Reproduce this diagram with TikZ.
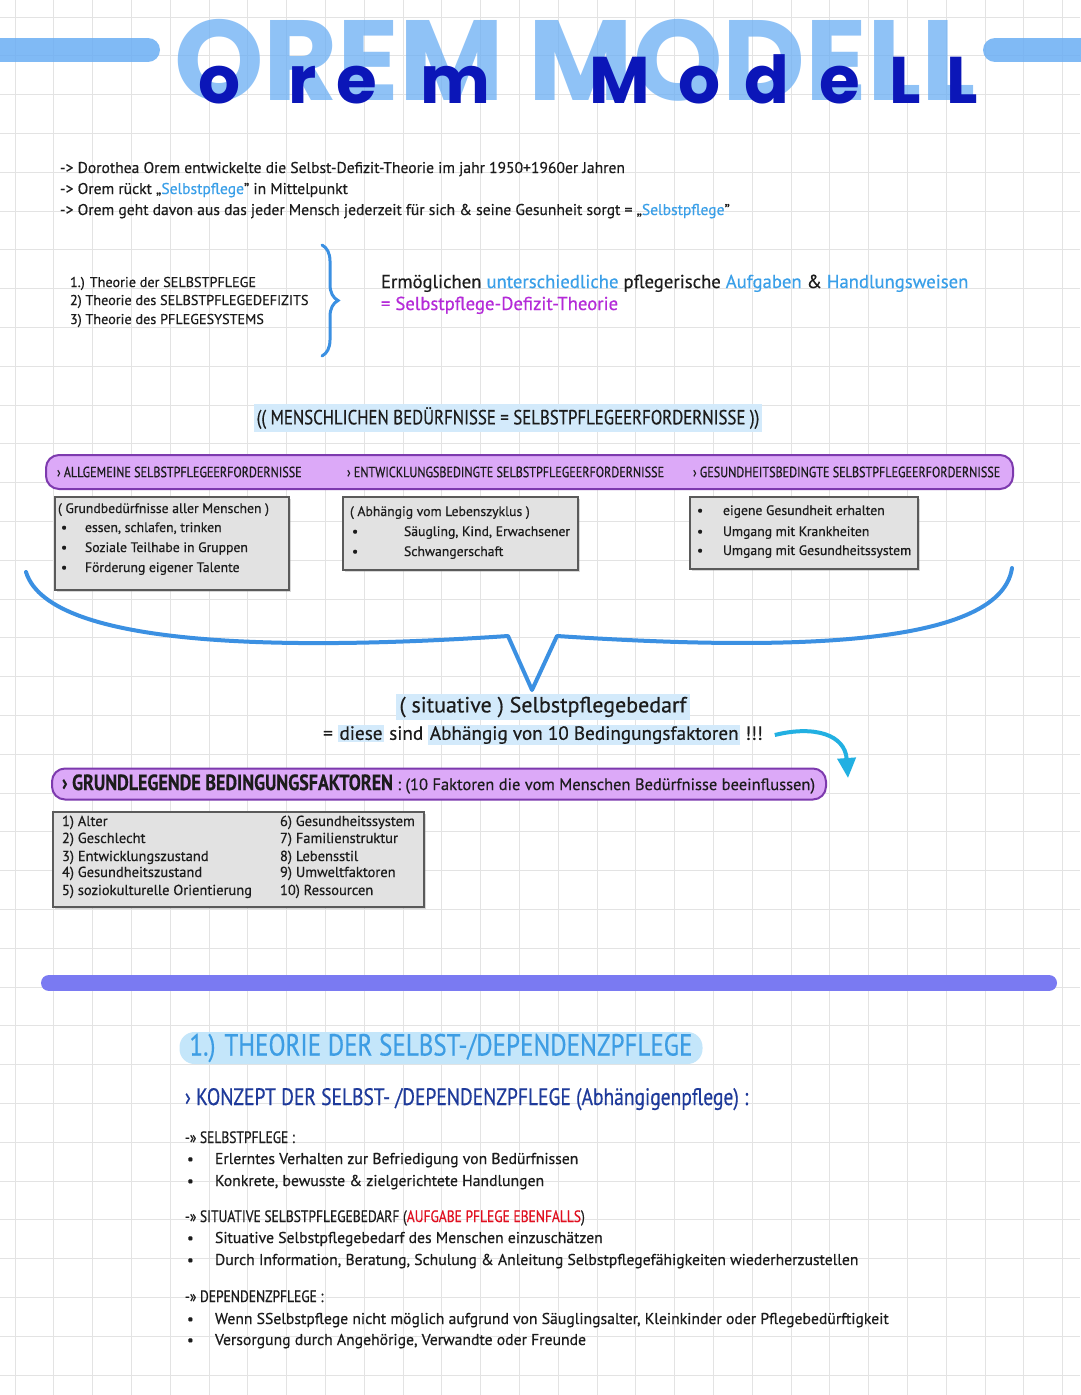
\documentclass[tikz,border=0pt]{standalone}
\usepackage{fontspec}
\setmainfont{PT Sans}[FakeBold=0.5]
\newfontfamily\capsfont[FakeStretch=0.82,FakeBold=0.5]{PT Sans}
\newfontfamily\titlefont{Poppins}
\usetikzlibrary{arrows.meta,positioning,calc,decorations.pathreplacing,shadows}

\definecolor{gridgray}{HTML}{E3E3E3}
\definecolor{titlelight}{HTML}{6AAEF4}
\definecolor{handblue}{HTML}{0B16B8}
\definecolor{ink}{HTML}{1C1C1C}
\definecolor{skyblue}{HTML}{3A9FE8}
\definecolor{violettext}{HTML}{B42AD8}
\definecolor{hlblue}{HTML}{D3EAFB}
\definecolor{barfill}{HTML}{DCA9F8}
\definecolor{barline}{HTML}{7D3AAE}
\definecolor{boxfill}{HTML}{E2E2E2}
\definecolor{boxedge}{HTML}{5A5A5A}
\definecolor{braceblue}{HTML}{3B90E2}
\definecolor{arrowcyan}{HTML}{22B0E2}
\definecolor{dividerblue}{HTML}{7A7AF2}
\definecolor{headblue}{HTML}{3D9DE4}
\definecolor{headhl}{HTML}{C4E6FA}
\definecolor{navy}{HTML}{1E3A9A}
\definecolor{alertred}{HTML}{E01020}

\newcommand\fsz[1]{\fontsize{#1}{#1}\selectfont}
\newcommand\markhl[1]{{\setlength{\fboxsep}{1.5pt}\colorbox{hlblue}{#1}}}

\begin{document}
\begin{tikzpicture}[
  x=1pt, y=-1pt, >=Stealth,
  every node/.style={inner sep=0pt, outer sep=0pt, text=ink},
  gridline/.style={draw=gridgray, line width=0.9pt},
  titlebig/.style={font=\titlefont\bfseries\fsz{114}, text=titlelight, text opacity=.75, anchor=base},
  handletter/.style={font=\titlefont\bfseries\fsz{66}, text=handblue, anchor=base},
  titlebar/.style={draw=titlelight, draw opacity=.85, line width=24pt, line cap=round},
  body/.style={font=\fsz{15.6}, anchor=base west},
  listtext/.style={font=\fsz{14.2}, anchor=base west},
  bigline/.style={font=\fsz{18.7}, anchor=base west},
  capsline/.style={font=\capsfont\fsz{20.5}, anchor=center},
  barlabel/.style={font=\capsfont\fsz{14.8}, anchor=west},
  bar/.style={draw=barline, line width=2pt, fill=barfill, rounded corners=13pt},
  greybox/.style={draw=boxedge, line width=1.2pt, fill=boxfill, anchor=north west,
                  drop shadow={shadow xshift=1.5pt, shadow yshift=-1.5pt, opacity=.3}},
  boxitem/.style={font=\fsz{13.7}, anchor=base west},
  bulletdot/.style={font=\fsz{13.7}, anchor=base west},
  bigbrace/.style={draw=braceblue, line width=4pt, line cap=round, line join=round},
  smallbrace/.style={draw=braceblue, line width=3pt, line cap=round, decorate,
                     decoration={brace, amplitude=16pt}},
  curvarrow/.style={draw=arrowcyan, line width=4pt, -{Triangle[length=20pt,width=18pt]}},
  subhead/.style={font=\capsfont\fsz{16.5}, anchor=base west},
  lowitem/.style={font=\fsz{15.7}, anchor=base west},
]
\useasboundingbox (0,0) rectangle (1080,1395);
\fill[white] (0,0) rectangle (1080,1395);
% grid paper
\foreach \gx in {15,53.8,...,1080} \draw[gridline] (\gx,0) -- (\gx,1395);
\foreach \gy in {17,55.8,...,1395} \draw[gridline] (0,\gy) -- (1080,\gy);

% title
\draw[titlebar] (-20,50) -- (148,50);
\draw[titlebar] (995,50) -- (1100,50);
\node[titlebig] (caps) at (575,100) {OREM MODELL};
\foreach \ch/\cx [count=\ci] in {o/220,r/303,e/357,m/455,M/620,o/700,d/767,e/840,L/905,L/962}
  \node[handletter] (hand\ci) at (\cx,103) {\ch};

% intro
\node[body] (intro1) at (60,173) {-> Dorothea Orem entwickelte die Selbst-Defizit-Theorie im jahr 1950+1960er Jahren};
\node[body] (intro2) at (60,194) {-> Orem rückt „\textcolor{skyblue}{Selbstpflege}" in Mittelpunkt};
\node[body] (intro3) at (60,215) {-> Orem geht davon aus das jeder Mensch jederzeit für sich \& seine Gesunheit sorgt = „\textcolor{skyblue}{Selbstpflege}"};

% three theories
\foreach \txt/\ty [count=\ti] in {{1.) Theorie der SELBSTPFLEGE}/287, {2) Theorie des SELBSTPFLEGEDEFIZITS}/305, {3) Theorie des PFLEGESYSTEMS}/324}
  \node[listtext] (theo\ti) at (70,\ty) {\txt};
\coordinate (bracetop) at (322,245);
\coordinate (bracebot) at (322,356);
\draw[smallbrace] (bracetop) -- (bracebot);
\node[bigline] (enable) at (381,288) {Ermöglichen \textcolor{skyblue}{unterschiedliche} pflegerische \textcolor{skyblue}{Aufgaben} \& \textcolor{skyblue}{Handlungsweisen}};
\node[bigline, text=violettext] (sdt) at (381,310) {= Selbstpflege-Defizit-Theorie};

% needs
\node[capsline, fill=hlblue, inner xsep=3pt, inner ysep=3pt] (needs) at (508,418) {(( MENSCHLICHEN BEDÜRFNISSE = SELBSTPFLEGEERFORDERNISSE ))};
\node[bar, minimum width=967, minimum height=34] (barA) at (529.5,472) {};
\node[barlabel] (allg) at (57,472) {› ALLGEMEINE SELBSTPFLEGEERFORDERNISSE};
\node[barlabel] (entw) at (347,472) {› ENTWICKLUNGSBEDINGTE SELBSTPFLEGEERFORDERNISSE};
\node[barlabel] (gesu) at (693,472) {› GESUNDHEITSBEDINGTE SELBSTPFLEGEERFORDERNISSE};

\node[greybox, minimum width=234, minimum height=93] (boxA) at (55,497) {};
\node[boxitem] (headA) at (58,513) {( Grundbedürfnisse aller Menschen )};
\foreach \txt/\ty [count=\ai] in {{essen, schlafen, trinken}/532, {Soziale Teilhabe in Gruppen}/552, {Förderung eigener Talente}/572} {
  \node[bulletdot] (dotA\ai) at (61,\ty) {•};
  \node[boxitem] (itemA\ai) at (85,\ty) {\txt};
}
\node[greybox, minimum width=235, minimum height=73] (boxB) at (343,497) {};
\node[boxitem] (headB) at (350,516) {( Abhängig vom Lebenszyklus )};
\foreach \txt/\ty [count=\bi] in {{Säugling, Kind, Erwachsener}/536, {Schwangerschaft}/556} {
  \node[bulletdot] (dotB\bi) at (352,\ty) {•};
  \node[boxitem] (itemB\bi) at (404,\ty) {\txt};
}
\node[greybox, minimum width=228, minimum height=72] (boxC) at (690,497) {};
\foreach \txt/\ty [count=\cj] in {{eigene Gesundheit erhalten}/515, {Umgang mit Krankheiten}/536, {Umgang mit Gesundheitssystem}/555} {
  \node[bulletdot] (dotC\cj) at (697,\ty) {•};
  \node[boxitem] (itemC\cj) at (723,\ty) {\txt};
}

% big brace
\draw[bigbrace] (26,572) .. controls (50,650) and (300,650) .. (508,636)
  -- (532,690) -- (557,636) .. controls (770,650) and (1000,650) .. (1012,568);

\node[font=\fsz{22}, fill=hlblue, inner xsep=3pt, inner ysep=3pt] (bedarf) at (543,707) {( situative ) Selbstpflegebedarf};
\node[font=\fsz{19.2}] (dies) at (543,735) {= \markhl{diese} sind \markhl{Abhängig von 10 Bedingungsfaktoren} !!!};
\coordinate (arrowtip) at (848,778);
\draw[curvarrow] ([xshift=12pt]dies.east) .. controls (815,725) and (845,735) .. (arrowtip);

% factors
\node[bar, minimum width=774, minimum height=31] (barB) at (439,784) {};
\node[anchor=west] (grund) at (62,784) {\capsfont\bfseries\fsz{22}› GRUNDLEGENDE BEDINGUNGSFAKTOREN\normalfont\fsz{16.5}{} : (10 Faktoren die vom Menschen Bedürfnisse beeinflussen)};
\node[greybox, minimum width=371, minimum height=95] (boxF) at (53,812) {};
\foreach \la/\lb/\ty [count=\fk] in {{1) Alter}/{6) Gesundheitssystem}/826, {2) Geschlecht}/{7) Familienstruktur}/843,
    {3) Entwicklungszustand}/{8) Lebensstil}/861, {4) Gesundheitszustand}/{9) Umweltfaktoren}/877,
    {5) soziokulturelle Orientierung}/{10) Ressourcen}/895} {
  \node[boxitem, font=\fsz{14.5}] (factL\fk) at (62,\ty) {\la};
  \node[boxitem, font=\fsz{14.5}] (factR\fk) at (280,\ty) {\lb};
}

\draw[draw=dividerblue, line width=16pt, line cap=round] (49,983) -- (1049,983);

% theory 1
\node[fill=headhl, rounded corners=15pt, minimum width=523, minimum height=32, font=\capsfont\fsz{30.5}, text=headblue] (theory1) at (441,1048) {1.) THEORIE DER SELBST-/DEPENDENZPFLEGE};
\node[anchor=base west, font=\capsfont\fsz{23.8}, text=navy] (konzept) at (185,1105) {› KONZEPT DER SELBST- /DEPENDENZPFLEGE (Abhängigenpflege) :};

\node[subhead] (sp) at (185,1143) {-» SELBSTPFLEGE :};
\foreach \txt/\ty [count=\ki] in {{Erlerntes Verhalten zur Befriedigung von Bedürfnissen}/1164, {Konkrete, bewusste \& zielgerichtete Handlungen}/1186} {
  \node[bulletdot, font=\fsz{15}] (dotS\ki) at (187,\ty) {•};
  \node[lowitem] (itemS\ki) at (215,\ty) {\txt};
}
\node[subhead] (sit) at (185,1222) {-» SITUATIVE SELBSTPFLEGEBEDARF (\textcolor{alertred}{AUFGABE PFLEGE EBENFALLS})};
\foreach \txt/\ty [count=\ki] in {{Situative Selbstpflegebedarf des Menschen einzuschätzen}/1243, {Durch Information, Beratung, Schulung \& Anleitung Selbstpflegefähigkeiten wiederherzustellen}/1265} {
  \node[bulletdot, font=\fsz{15}] (dotT\ki) at (187,\ty) {•};
  \node[lowitem] (itemT\ki) at (215,\ty) {\txt};
}
\node[subhead] (dep) at (185,1302) {-» DEPENDENZPFLEGE :};
\foreach \txt/\ty [count=\ki] in {{Wenn SSelbstpflege nicht möglich aufgrund von Säuglingsalter, Kleinkinder oder Pflegebedürftigkeit}/1324, {Versorgung durch Angehörige, Verwandte oder Freunde}/1345} {
  \node[bulletdot, font=\fsz{15}] (dotD\ki) at (187,\ty) {•};
  \node[lowitem] (itemD\ki) at (215,\ty) {\txt};
}
\end{tikzpicture}
\end{document}
